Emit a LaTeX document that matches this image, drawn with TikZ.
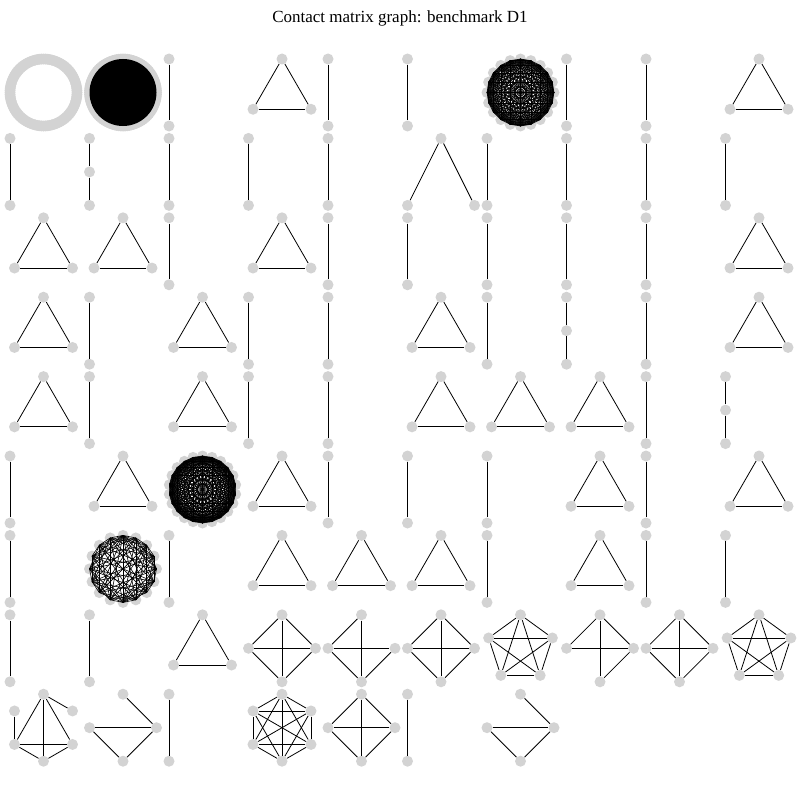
\documentclass[tikz,border=0pt]{standalone}
\usepackage{fontspec}
\setmainfont{Liberation Serif}
\usetikzlibrary{arrows, arrows.meta}
\definecolor{nodegray}{HTML}{D3D3D3}
\tikzset{vertex/.style = {shape = circle, fill = nodegray, minimum size = 11pt, inner sep = 0pt}}
\tikzset{edge/.style = {-, line width = 0.8pt}}
\tikzset{cell/.style 2 args = {shift = {({10 + 79.5*#2}, {59 + 79.4*#1})}}}

\begin{document}
\begin{tikzpicture}[x = 1pt, y = -1pt]
	\useasboundingbox (0, 0) rectangle (800, 800);
	\node[font = \fontsize{17}{20}\selectfont] (title) at (400, 18) {Contact matrix graph: benchmark D1};

	\foreach \r/\c in {0/2, 0/4, 0/5, 0/7, 0/8, 1/0, 1/2, 1/3, 1/4, 1/6, 1/7, 1/8, 1/9,
			2/2, 2/4, 2/5, 2/6, 2/7, 2/8, 3/1, 3/3, 3/4, 3/6, 3/8, 4/1, 4/3, 4/4, 4/8,
			5/0, 5/4, 5/5, 5/6, 5/8, 6/0, 6/2, 6/6, 6/8, 6/9, 7/0, 7/1, 8/2, 8/5} {
		\begin{scope}[cell = {\r}{\c}]
			\node[vertex] (v\r-\c-a) at (0, 0) {};
			\node[vertex] (v\r-\c-b) at (0, 67) {};
			\draw[edge] (v\r-\c-a) to (v\r-\c-b);
		\end{scope}
	}

	\foreach \r/\c in {1/1, 3/7, 4/9} {
		\begin{scope}[cell = {\r}{\c}]
			\node[vertex] (p\r-\c-a) at (0, 0) {};
			\node[vertex] (p\r-\c-b) at (0, 33.5) {};
			\node[vertex] (p\r-\c-c) at (0, 67) {};
			\draw[edge] (p\r-\c-a) to (p\r-\c-b);
			\draw[edge] (p\r-\c-b) to (p\r-\c-c);
		\end{scope}
	}

	\begin{scope}[cell = {1}{5}]
		\node[vertex] (w-a) at (0, 67) {};
		\node[vertex] (w-b) at (33.5, 0) {};
		\node[vertex] (w-c) at (67, 67) {};
		\draw[edge] (w-a) to (w-b);
		\draw[edge] (w-b) to (w-c);
	\end{scope}

	\foreach \r/\c in {0/3, 0/9, 2/0, 2/1, 2/3, 2/9, 3/0, 3/2, 3/5, 3/9, 4/0, 4/2,
			4/5, 4/6, 4/7, 5/1, 5/3, 5/7, 5/9, 6/3, 6/4, 6/5, 6/7, 7/2} {
		\begin{scope}[cell = {\r}{\c}]
			\node[vertex] (t\r-\c-a) at (33.5, 0) {};
			\node[vertex] (t\r-\c-b) at (4.5, 50.25) {};
			\node[vertex] (t\r-\c-c) at (62.5, 50.25) {};
			\draw[edge] (t\r-\c-a) to (t\r-\c-b);
			\draw[edge] (t\r-\c-b) to (t\r-\c-c);
			\draw[edge] (t\r-\c-c) to (t\r-\c-a);
		\end{scope}
	}

	\foreach \r/\c/\es in {7/3/{n/e, n/s, n/w, e/s, e/w, s/w},
			7/4/{n/w, n/s, w/e, w/s, e/s},
			7/5/{n/e, n/s, n/w, e/s, e/w, s/w},
			7/7/{n/w, n/e, n/s, w/e, e/s},
			7/8/{n/e, n/s, n/w, e/s, e/w, s/w},
			8/1/{n/e, w/e, w/s, e/s},
			8/4/{n/e, n/s, n/w, e/s, e/w, s/w},
			8/6/{n/e, w/e, w/s, e/s}} {
		\begin{scope}[cell = {\r}{\c}]
			\node[vertex] (k\r-\c-n) at (33.5, 0) {};
			\node[vertex] (k\r-\c-e) at (67, 33.5) {};
			\node[vertex] (k\r-\c-s) at (33.5, 67) {};
			\node[vertex] (k\r-\c-w) at (0, 33.5) {};
			\foreach \u/\v in \es
				\draw[edge] (k\r-\c-\u) to (k\r-\c-\v);
		\end{scope}
	}

	\foreach \c in {6, 9} {
		\begin{scope}[cell = {7}{\c}]
			\foreach \i/\a in {1/90, 2/18, 3/-54, 4/-126, 5/162}
				\node[vertex] (f\c-\i) at ({33.5 + 33.5*cos(\a)}, {33.5 - 33.5*sin(\a)}) {};
			\foreach \u/\v in {1/2, 1/3, 1/4, 1/5, 2/3, 2/4, 2/5, 3/4, 3/5, 4/5}
				\draw[edge] (f\c-\u) to (f\c-\v);
		\end{scope}
	}

	\foreach \c/\es in {0/{6/5, 1/2, 1/5, 1/3, 1/4, 5/3, 5/4, 3/4},
			3/{1/2, 1/3, 1/4, 1/5, 1/6, 2/3, 2/4, 2/5, 2/6, 3/4, 3/5, 3/6, 4/5, 4/6, 5/6}} {
		\begin{scope}[cell = {8}{\c}]
			\foreach \i/\a in {1/90, 2/30, 3/-30, 4/-90, 5/-150, 6/150}
				\node[vertex] (h\c-\i) at ({33.5 + 33.5*cos(\a)}, {33.5 - 33.5*sin(\a)}) {};
			\foreach \u/\v in \es
				\draw[edge] (h\c-\u) to (h\c-\v);
		\end{scope}
	}

	\foreach \r/\c/\n/\full in {0/6/20/1, 5/2/22/1, 6/1/16/0} {
		\begin{scope}[cell = {\r}{\c}]
			\foreach \i in {1,...,\n}
				\node[vertex] (d\r-\c-\i) at ({33.5 + 33.5*cos(90 - 360*(\i - 1)/\n)}, {33.5 - 33.5*sin(90 - 360*(\i - 1)/\n)}) {};
			\pgfmathtruncatemacro\last{\n - 1}
			\foreach \i in {1,...,\last} {
				\pgfmathtruncatemacro\nxt{\i + 1}
				\foreach \j in {\nxt,...,\n} {
					\pgfmathtruncatemacro\keep{(\full == 1) || (mod(\i + \j, 3) > 0) || (\i == 1) || (\j == 9)}
					\ifnum\keep > 0
						\draw[edge, line width = 0.6pt] (d\r-\c-\i.center) to (d\r-\c-\j.center);
					\fi
				}
			}
		\end{scope}
	}

	\foreach \c in {0, 1} {
		\begin{scope}[cell = {0}{\c}]
			\foreach \i in {1,...,100}
				\node[vertex] (r\c-\i) at ({33.5 + 33.5*cos(3.6*\i)}, {33.5 - 33.5*sin(3.6*\i)}) {};
		\end{scope}
	}
	\begin{scope}[cell = {0}{1}]
		\fill[black] (33.5, 33.5) circle[radius = 33.5pt];
	\end{scope}
\end{tikzpicture}
\end{document}
